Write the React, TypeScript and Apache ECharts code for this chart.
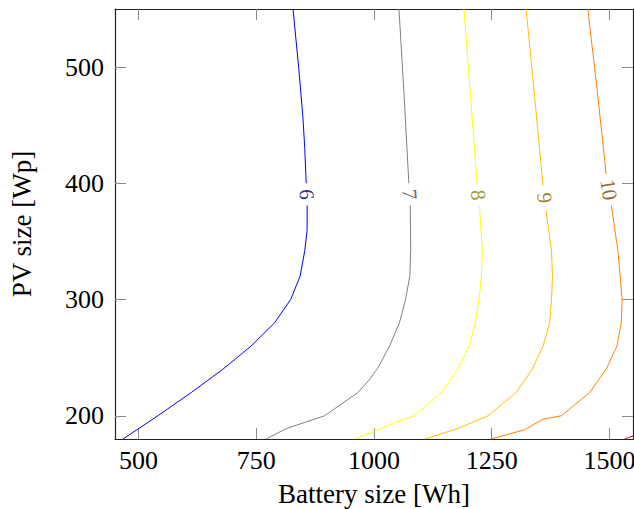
import React, { useEffect, useRef } from "react";
import * as echarts from "echarts";

// Contour levels (value of each iso-line)
const levels = [6, 7, 8, 9, 10, 11];
const lineColors = ["#0000ff", "#808080", "#ffff00", "#ffbf00", "#ff8000", "#ff0000"];
const labelColors = ["#000080", "#404040", "#808000", "#806000", "#804000", "#800000"];

// Iso-line points [battery Wh, PV Wp], bottom to top; null = gap where the label sits
const contour6 = [[467, 180], [541, 200], [612, 220], [679, 240], [739, 260], [789, 280], [823, 300], [843, 320], [853, 342], [858, 360], [858, 381], null, [856, 400], [853, 430], [849, 457], [840, 500], [828, 550]];
const contour7 = [[771, 180], [814, 189], [895, 200], [966, 220], [990, 231], [1008, 241], [1033, 260], [1054, 280], [1067, 300], [1076, 320], [1078, 342], [1077, 381], null, [1074, 400], [1064, 475], [1053, 550]];
const contour8 = [[960, 180], [991, 185], [1044, 194], [1086, 200], [1143, 220], [1178, 240], [1203, 261], [1215, 280], [1223, 300], [1228, 320], [1230, 342], [1224, 380], null, [1219, 400], [1205, 475], [1191, 550]];
const contour9 = [[1108, 180], [1178, 189], [1242, 200], [1302, 220], [1336, 240], [1359, 260], [1373, 280], [1377, 300], [1379, 320], [1377, 342], [1365, 377], null, [1359, 398], [1341, 475], [1323, 550]];
const contour10 = [[1249, 180], [1320, 188], [1359, 197], [1398, 200], [1458, 220], [1493, 240], [1516, 260], [1525, 280], [1527, 300], [1518, 342], [1504, 381], null, [1493, 408], [1474, 480], [1454, 550]];
const contour11 = [[1532, 180], [1550, 182.6]];
const contours = [contour6, contour7, contour8, contour9, contour10, contour11];

const xTicks = [500, 750, 1000, 1250, 1500];
const yTicks = [200, 300, 400, 500];
const xRange = [450, 1550];
const yRange = [180, 550];

const FONT = "'Liberation Serif', 'DejaVu Serif', serif";

function splitSegments(pts: any[]) {
  const segs: number[][][] = [];
  let cur: number[][] = [];
  pts.forEach((p) => {
    if (p === null) {
      if (cur.length) segs.push(cur);
      cur = [];
    } else cur.push(p);
  });
  if (cur.length) segs.push(cur);
  return segs;
}

export default function App() {
  const ref = useRef<HTMLDivElement>(null);
  useEffect(() => {
    if (!ref.current) return;
    const chart = echarts.init(ref.current, null, { renderer: "svg" });

    const lineSeries: any[] = [];
    contours.forEach((pts, i) => {
      splitSegments(pts).forEach((seg) => {
        lineSeries.push({
          type: "line",
          data: seg,
          symbol: "none",
          silent: true,
          clip: true,
          lineStyle: { color: lineColors[i], width: 1 },
          xAxisIndex: 0,
          yAxisIndex: 0,
        });
      });
    });

    const axisLine = { show: true, onZero: false, lineStyle: { color: "#222", width: 1.2 } };
    const tickStyle = { color: "#8a8a8a", width: 1 };
    const plain = (v: number) => String(v);
    const option: any = {
      animation: false,
      grid: { left: 115, right: 1, top: 9, bottom: 70, containLabel: false, outerBoundsMode: "none" },
      xAxis: [
        {
          type: "value", min: xRange[0], max: xRange[1], position: "bottom",
          name: "Battery size [Wh]", nameLocation: "middle", nameGap: 41, nameMoveOverlap: false,
          nameTextStyle: { fontFamily: FONT, fontSize: 27, color: "#000" },
          axisLine,
          axisTick: { inside: true, length: 11, lineStyle: tickStyle, customValues: xTicks },
          axisLabel: { customValues: xTicks, formatter: plain, fontFamily: FONT, fontSize: 26, color: "#000", margin: 8 },
          splitLine: { show: false },
        },
        {
          type: "value", min: xRange[0], max: xRange[1], position: "top",
          axisLine,
          axisTick: { inside: true, length: 11, lineStyle: tickStyle, customValues: xTicks },
          axisLabel: { show: false, customValues: xTicks },
          splitLine: { show: false },
        },
      ],
      yAxis: [
        {
          type: "value", min: yRange[0], max: yRange[1], position: "left",
          name: "PV size [Wp]", nameLocation: "middle", nameGap: 80, nameMoveOverlap: false,
          nameTextStyle: { fontFamily: FONT, fontSize: 27, color: "#000" },
          axisLine,
          axisTick: { inside: true, length: 11, lineStyle: tickStyle, customValues: yTicks },
          axisLabel: { customValues: yTicks, formatter: plain, fontFamily: FONT, fontSize: 26, color: "#000", margin: 11 },
          splitLine: { show: false },
        },
        {
          type: "value", min: yRange[0], max: yRange[1], position: "right",
          axisLine,
          axisTick: { inside: true, length: 11, lineStyle: tickStyle, customValues: yTicks },
          axisLabel: { show: false, customValues: yTicks },
          splitLine: { show: false },
        },
      ],
      series: lineSeries,
    };
    chart.setOption(option);

    // Labels sit in the gaps of each iso-line, rotated along the line
    const labelData: any[] = [];
    contours.forEach((pts, i) => {
      const gi = pts.indexOf(null as any);
      if (gi < 0) return;
      const lower = pts[gi - 1] as number[];
      const upper = pts[gi + 1] as number[];
      const pl = chart.convertToPixel({ xAxisIndex: 0, yAxisIndex: 0 }, lower) as number[];
      const pu = chart.convertToPixel({ xAxisIndex: 0, yAxisIndex: 0 }, upper) as number[];
      const dx = pl[0] - pu[0];
      const dy = pl[1] - pu[1];
      const rot = (Math.atan2(-dy, dx) * 180) / Math.PI;
      labelData.push({
        value: [(lower[0] + upper[0]) / 2, (lower[1] + upper[1]) / 2, levels[i]],
        label: { rotate: rot, color: labelColors[i] },
      });
    });
    chart.setOption({
      series: [
        ...lineSeries,
        {
          type: "scatter",
          data: labelData,
          symbolSize: 1,
          silent: true,
          itemStyle: { color: "transparent" },
          label: {
            show: true,
            position: "inside",
            fontFamily: FONT,
            fontSize: 21,
            formatter: (p: any) => String(p.value[2]),
          },
          xAxisIndex: 0,
          yAxisIndex: 0,
        },
      ],
    });

    return () => chart.dispose();
  }, []);
  return (
    <div
      ref={ref}
      style={{ position: "fixed", left: 0, top: 0, width: 634, height: 509, background: "#fff" }}
    />
  );
}
